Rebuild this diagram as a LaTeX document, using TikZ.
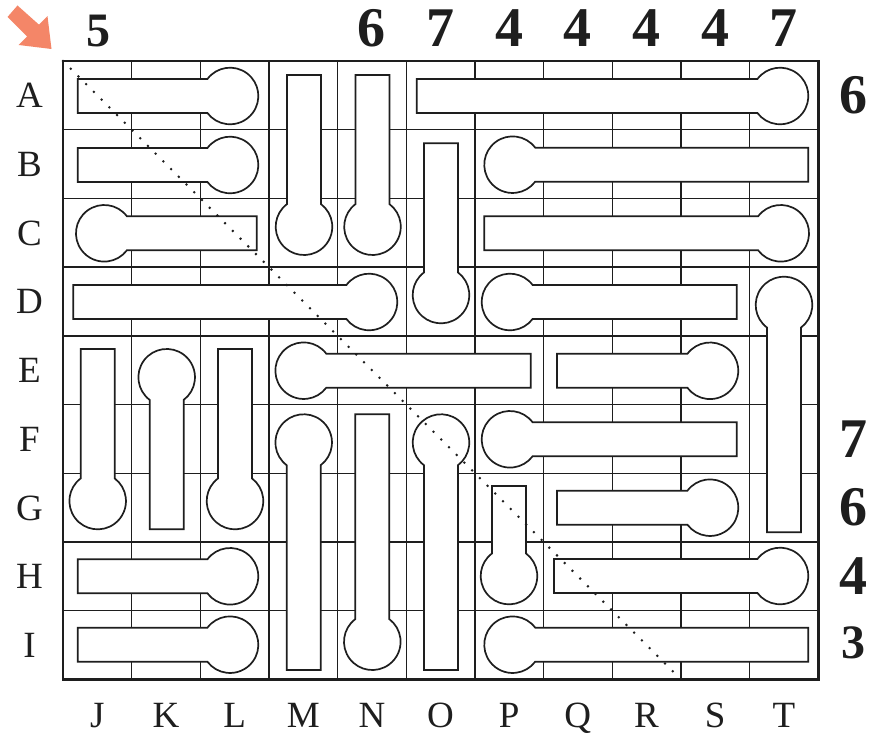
\documentclass[tikz,border=0pt]{standalone}
\usepackage{fontspec}
\setmainfont{Liberation Serif}
\definecolor{coral}{RGB}{244,134,104}
\definecolor{ink}{RGB}{30,30,30}
\tikzset{
  gridline/.style={line width=1.4pt, draw=ink},
  frame/.style={line width=2.8pt, draw=ink},
  thermo/.style={draw=ink, line width=1.7pt, fill=white, line join=miter},
  lbl/.style={font=\fontsize{37}{40}\selectfont, anchor=base, inner sep=0pt, text=ink},
  num/.style={font=\fontsize{56}{60}\selectfont\bfseries, inner sep=0pt, text=ink},
  smallnum/.style={font=\fontsize{48}{52}\selectfont\bfseries, inner sep=0pt, text=ink},
  diag/.style={line width=2.8pt, dash pattern=on 0pt off 10.92pt, line cap=round, draw=ink},
}
\def\ww{17}\def\dd{22.6}\def\aa{36.9}
% bulb right, tube extends left to #3
\newcommand\thR[3]{\draw[thermo] (#3,{-#2+\ww}) -- ({#1-\dd},{-#2+\ww}) arc[start angle={180-\aa}, end angle={\aa-180}, radius=28.3pt] -- (#3,{-#2-\ww}) -- cycle;}
% bulb left, tube extends right to #3
\newcommand\thL[3]{\draw[thermo] (#3,{-#2+\ww}) -- ({#1+\dd},{-#2+\ww}) arc[start angle=\aa, end angle={360-\aa}, radius=28.3pt] -- (#3,{-#2-\ww}) -- cycle;}
% bulb bottom, tube extends up to #3
\newcommand\thD[3]{\draw[thermo] ({#1-\ww},-#3) -- ({#1-\ww},{-#2+\dd}) arc[start angle={90+\aa}, end angle={450-\aa}, radius=28.3pt] -- ({#1+\ww},-#3) -- cycle;}
% bulb top, tube extends down to #3
\newcommand\thU[3]{\draw[thermo] ({#1-\ww},-#3) -- ({#1-\ww},{-#2-\dd}) arc[start angle={270-\aa}, end angle={\aa-90}, radius=28.3pt] -- ({#1+\ww},-#3) -- cycle;}
\begin{document}
\begin{tikzpicture}[x=1pt,y=1pt]
\useasboundingbox (0,0) rectangle (869,-735);
\fill[white] (0,0) rectangle (869,-735);
% grid
\foreach \i in {1,...,10} \draw[gridline] ({63+\i*68.65},-61) -- ({63+\i*68.65},-679.3);
\foreach \j in {1,...,8} \draw[gridline] (63,{-61-\j*68.7}) -- (818.15,{-61-\j*68.7});
% thermometers: bulb right
\thR{230}{96}{77.7}
\thR{230}{165}{77.7}
\thR{369}{302}{73.3}
\thR{780}{96}{416.7}
\thR{780.7}{233.3}{484.3}
\thR{710}{370.8}{557}
\thR{710}{507.7}{557}
\thR{230}{576.3}{77.7}
\thR{780}{576}{554}
\thR{230}{644.7}{77.7}
% bulb left
\thL{104.3}{233.3}{256.7}
\thL{512.6}{164.7}{808.3}
\thL{510}{302}{736.7}
\thL{303.7}{370.7}{530.7}
\thL{510}{439.3}{736.7}
\thL{512.6}{644.7}{808.3}
% bulb bottom
\thD{304}{226.7}{75}
\thD{372.5}{226.7}{75}
\thD{441}{295}{143.3}
\thD{97.7}{501}{349}
\thD{235}{501}{349}
\thD{372.3}{641.7}{414.3}
\thD{509}{576}{486}
% bulb top
\thU{784}{305}{532.3}
\thU{166.7}{377.3}{529.3}
\thU{303.7}{442.6}{670}
\thU{441}{442.6}{670}
% frame
\draw[frame] (63,-61) rectangle (818.15,-679.3);
% diagonal
\coordinate (d0) at (63,-61);
\coordinate (d1) at (680.85,-679.3);
\draw[diag] (d0) -- (d1);
% arrow
\fill[coral] (17.5,-5.5) -- (39,-24.7) -- (47.5,-16.2) -- (51.5,-49) -- (18.7,-45) -- (27.2,-36.5) -- (7.5,-17) -- cycle;
% row labels
\foreach \l [count=\i from 0] in {A,B,C,D,E,F,G,H,I}
  \node[lbl] (row\l) at (29.5,{-95.35-\i*68.7-12.5}) {\l};
% column labels
\foreach \l [count=\i from 0] in {J,K,L,M,N,O,P,Q,R,S,T}
  \node[lbl] (col\l) at ({97.3+\i*68.65},-727) {\l};
% top numbers
\node[smallnum, anchor=base] (top0) at (98.5,-46.7) {5};
\foreach \i/\n in {4/6,5/7,6/4,7/4,8/4,9/4,10/7}
  \node[num, anchor=base] (top\i) at ({97.3+\i*68.65},-46.7) {\n};
% right numbers
\foreach \i/\n in {0/6,5/7,6/6,7/4}
  \node[num] (right\i) at (853,{-95.35-\i*68.7}) {\n};
\node[smallnum] (right8) at (853,-642.5) {3};
\end{tikzpicture}
\end{document}
